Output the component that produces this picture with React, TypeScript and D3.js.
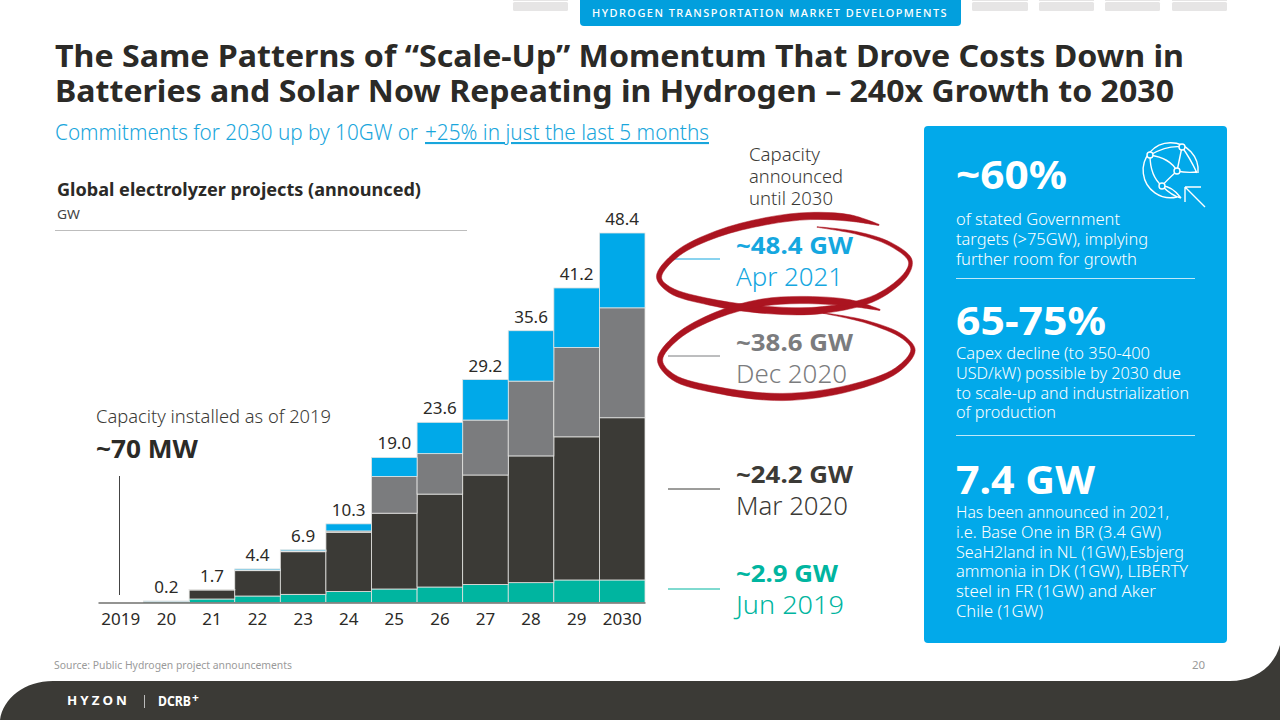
import React, { useEffect, useRef } from "react";
import * as d3 from "d3";

const years = ["2019", "20", "21", "22", "23", "24", "25", "26", "27", "28", "29", "2030"];
const totals = [null, 0.2, 1.7, 4.4, 6.9, 10.3, 19.0, 23.6, 29.2, 35.6, 41.2, 48.4];
const jun2019 = [0, 0.1, 0.46, 0.85, 1.07, 1.44, 1.77, 2.03, 2.36, 2.6, 2.95, 2.95];
const mar2020 = [0, 0.05, 1.18, 3.32, 5.58, 7.76, 9.93, 12.17, 14.34, 16.6, 18.75, 21.25];
const dec2020 = [0, 0, 0.04, 0.08, 0.1, 0.17, 4.8, 5.3, 7.2, 9.8, 11.7, 14.4];
const apr2021 = [0, 0.05, 0.02, 0.15, 0.15, 0.93, 2.5, 4.1, 5.3, 6.6, 7.8, 9.8];

const seriesKeys = ["jun2019", "mar2020", "dec2020", "apr2021"];
const seriesColors = ["#00b5a0", "#3b3a36", "#7b7c7e", "#00a9e9"];

const DARK = "#3b3a36";
const BLUE = "#02a9ea";
const TEAL = "#00b5a0";
const GREY = "#7b7c7e";
const FONT = "'Noto Sans', sans-serif";

// [x, y, half width of the brush]
const ring1: number[][] = [
  [879, 225, 0.6], [850, 218, 3.2], [810, 216, 3.6], [767, 221, 3.6], [717, 234, 3.2], [677, 254, 2.8],
  [659, 277, 2.6], [670, 290, 2.8], [710, 302, 3.2], [767, 310, 3.6], [823, 310, 3.4], [877, 297, 2.8],
  [907, 273, 2.2], [910, 260, 2], [890, 244, 1.8], [857, 233, 1.3], [817, 227, 0.3],
];
const ring2: number[][] = [
  [880, 310, 0.6], [850, 303, 3.2], [800, 300, 3.6], [760, 303, 3.6], [717, 315, 3.2], [677, 337, 2.8],
  [660, 360, 2.6], [673, 377, 2.8], [717, 390, 3.2], [783, 397, 3.6], [850, 388, 3.2], [897, 370, 2.6],
  [913, 350, 2.2], [903, 337, 1.8], [867, 322, 1.3], [823, 313, 0.3],
];

const brushPath = (pts: number[][]) => {
  const left: [number, number][] = [];
  const right: [number, number][] = [];
  pts.forEach((p, i) => {
    const a = pts[Math.max(0, i - 1)];
    const b = pts[Math.min(pts.length - 1, i + 1)];
    const len = Math.hypot(b[0] - a[0], b[1] - a[1]) || 1;
    const nx = -(b[1] - a[1]) / len;
    const ny = (b[0] - a[0]) / len;
    left.push([p[0] + nx * p[2], p[1] + ny * p[2]]);
    right.push([p[0] - nx * p[2], p[1] - ny * p[2]]);
  });
  const line = d3.line().curve(d3.curveCatmullRom);
  return `${line(left)}L${line(right.reverse())!.slice(1)}Z`;
};

type Line = { s: string; x?: number; y: number; size?: number; weight?: number; fill?: string; w?: number; deco?: string };

const App = () => {
  const svgRef = useRef<SVGSVGElement | null>(null);

  useEffect(() => {
    document.body.style.margin = "0";
    const svg = d3.select(svgRef.current).attr("width", 1280).attr("height", 720);
    svg.selectAll("*").remove();
    svg.append("rect").attr("width", 1280).attr("height", 720).attr("fill", "#fff");

    // one text element per block, a tspan per line
    const block = (x: number, size: number, fill: string, weight: number, lines: Line[]) => {
      const t = svg.append("text").attr("font-family", FONT);
      lines.forEach((l) => {
        const sp = t.append("tspan")
          .attr("x", l.x ?? x).attr("y", l.y)
          .attr("font-size", l.size ?? size)
          .attr("font-weight", l.weight ?? weight)
          .attr("fill", l.fill ?? fill)
          .text(l.s);
        if (l.w) sp.attr("textLength", l.w).attr("lengthAdjust", "spacingAndGlyphs");
        if (l.deco) sp.attr("text-decoration", l.deco);
      });
      return t;
    };

    // top navigation tabs
    [[513, 55], [972, 56], [1039, 55], [1105, 55], [1172, 55]].forEach(([x, w]) => {
      svg.append("rect").attr("x", x).attr("y", 2).attr("width", w).attr("height", 9).attr("rx", 1.5).attr("fill", "#e6e5e5");
      svg.append("rect").attr("x", x).attr("y", 0).attr("width", w).attr("height", 1).attr("fill", "#e6e5e5");
    });
    svg.append("path").attr("d", "M580,0H961V22a4,4 0 0 1 -4,4H584a4,4 0 0 1 -4,-4Z").attr("fill", "#029fdd");
    block(592, 10.5, "#fff", 500, [{ s: "HYDROGEN TRANSPORTATION MARKET DEVELOPMENTS", y: 17, w: 356 }]).attr("letter-spacing", 1.4);

    // title
    block(55, 31, "#2b2a27", 700, [
      { s: "The Same Patterns of “Scale-Up” Momentum That Drove Costs Down in", y: 67, w: 1129 },
      { s: "Batteries and Solar Now Repeating in Hydrogen – 240x Growth to 2030", y: 102, w: 1119 },
    ]);
    block(55, 21, "#19a6dc", 300, [
      { s: "Commitments for 2030 up by 10GW or", y: 140, w: 363 },
      { s: "+25% in just the last 5 months", x: 425, y: 140, w: 284, deco: "underline" },
    ]);

    // chart header
    block(57, 18, "#2b2a27", 700, [
      { s: "Global electrolyzer projects (announced)", y: 196, w: 364 },
      { s: "GW", y: 219, size: 13, weight: 400, fill: "#444", w: 23 },
    ]);
    svg.append("line").attr("x1", 55).attr("x2", 467).attr("y1", 230.5).attr("y2", 230.5).attr("stroke", "#bdbdbd");

    // stacked bars
    const rows = years.map((y, i) => ({
      year: y,
      jun2019: jun2019[i],
      mar2020: mar2020[i],
      dec2020: dec2020[i],
      apr2021: apr2021[i],
    }));
    const stacked = d3.stack<any>().keys(seriesKeys)(rows);

    const x = d3.scaleBand().domain(years).range([98, 645]).padding(0);
    const y = d3.scaleLinear()
      .domain([0, d3.max(totals, (d) => d ?? 0)!])
      .range([602.5, 233]);

    svg.append("g")
      .selectAll("g")
      .data(stacked)
      .join("g")
      .attr("fill", (_, i) => seriesColors[i])
      .selectAll("rect")
      .data((d) => d.filter((s) => s[1] - s[0] > 0))
      .join("rect")
      .attr("x", (d) => x(d.data.year)!)
      .attr("y", (d) => y(d[1]))
      .attr("width", x.bandwidth())
      .attr("height", (d) => y(d[0]) - y(d[1]))
      .attr("stroke", "#e4e4e2")
      .attr("stroke-width", 0.8);

    // totals above the bars
    svg.append("g")
      .selectAll("text")
      .data(years.filter((_, i) => totals[i] !== null))
      .join("text")
      .attr("x", (d) => x(d)! + x.bandwidth() / 2)
      .attr("y", (d) => y(totals[years.indexOf(d)]!) - 8)
      .attr("text-anchor", "middle")
      .attr("font-family", FONT)
      .attr("font-size", 17)
      .attr("fill", "#2b2a27")
      .text((d) => totals[years.indexOf(d)]!.toFixed(1));

    // axis
    const axis = svg.append("g")
      .attr("transform", "translate(0,602.5)")
      .call(d3.axisBottom(x).tickSize(0).tickSizeOuter(0).tickPadding(10));
    axis.select(".domain").attr("stroke", "#2b2a27").attr("stroke-width", 1.2);
    axis.selectAll("text").attr("font-family", FONT).attr("font-size", 17).attr("fill", "#2b2a27");

    // 2019 callout
    block(96, 18, "#3b3a36", 300, [
      { s: "Capacity installed as of 2019", y: 423, w: 235 },
      { s: "~70 MW", y: 458, size: 25, weight: 700, fill: "#2b2a27", w: 102 },
    ]);
    svg.append("line").attr("x1", 119.5).attr("x2", 119.5).attr("y1", 476).attr("y2", 595).attr("stroke", "#444").attr("stroke-width", 1);

    // announced capacity column
    block(749, 18, "#3b3a36", 300, [
      { s: "Capacity", y: 161, w: 71 },
      { s: "announced", y: 183, w: 94 },
      { s: "until 2030", y: 205, w: 84 },
    ]);

    const rows2 = [
      { y: 259, gw: "~48.4 GW", gy: 254, gl: 117, date: "Apr 2021", dy: 286, dl: 107, c: "#15a7df" },
      { y: 356, gw: "~38.6 GW", gy: 351, gl: 117, date: "Dec 2020", dy: 383, dl: 111, c: GREY },
      { y: 489, gw: "~24.2 GW", gy: 483, gl: 117, date: "Mar 2020", dy: 515, dl: 112, c: DARK },
      { y: 589, gw: "~2.9 GW", gy: 582, gl: 102, date: "Jun 2019", dy: 614, dl: 108, c: TEAL },
    ];
    rows2.forEach((r) => {
      svg.append("line").attr("x1", 668).attr("x2", 720).attr("y1", r.y).attr("y2", r.y).attr("stroke", r.c).attr("stroke-width", 1);
      block(736, 24, r.c, 700, [
        { s: r.gw, y: r.gy, w: r.gl },
        { s: r.date, y: r.dy, size: 26, weight: 300, w: r.dl },
      ]);
    });

    // red hand drawn rings
    [ring1, ring2].forEach((ring) => {
      svg.append("path").attr("d", brushPath(ring)).attr("fill", "#ab1420").attr("stroke", "#ab1420").attr("stroke-width", 0.5);
    });

    // right panel
    svg.append("rect").attr("x", 924).attr("y", 126).attr("width", 303).attr("height", 517).attr("rx", 4).attr("fill", BLUE);
    const para = (head: string, headY: number, headW: number, lines: string[], y0: number, widths: number[]) => {
      block(956, 16.5, "#fff", 300, [
        { s: head, y: headY, size: 39, weight: 700, w: headW },
        ...lines.map((s, i) => ({ s, y: y0 + i * 19.8, w: widths[i] })),
      ]);
    };
    para("~60%", 189, 111, ["of stated Government", "targets (>75GW), implying", "further room for growth"], 225, [164, 192, 181]);
    svg.append("line").attr("x1", 956).attr("x2", 1195).attr("y1", 278.5).attr("y2", 278.5).attr("stroke", "#bfe8f9");
    para("65-75%", 335, 150, ["Capex decline (to 350-400", "USD/kW) possible by 2030 due", "to scale-up and industrialization", "of production"], 359, [194, 225, 233, 100]);
    svg.append("line").attr("x1", 956).attr("x2", 1195).attr("y1", 435.5).attr("y2", 435.5).attr("stroke", "#bfe8f9");
    para("7.4 GW", 494, 139, ["Has been announced in 2021,", "i.e. Base One in BR (3.4 GW)", "SeaH2land in NL (1GW),Esbjerg", "ammonia in DK (1GW), LIBERTY", "steel in FR (1GW) and  Aker", "Chile (1GW)"], 518, [213, 205, 228, 232, 200, 87]);

    // globe icon
    const icon = svg.append("g").attr("fill", "none").attr("stroke", "#fff").attr("stroke-width", 1.4);
    icon.append("path").attr("d", "M1198,173A27.5,27.5 0 1 0 1177,197");
    icon.append("path").attr("d", "M1150,155Q1168,145 1182,147M1150,155Q1170,158 1177,171M1150,155Q1150,176 1162,186M1182,147L1177,171M1182,147Q1190,158 1197,173M1177,171Q1165,182 1162,186M1177,171Q1186,173 1197,172M1162,186Q1172,196 1181,198M1162,186Q1172,186 1181,198");
    icon.append("path").attr("d", "M1205,207L1185,187M1185,187H1201M1185,187V202");
    [[1150, 155], [1182, 147], [1177, 171], [1162, 186]].forEach(([cx, cy]) => {
      icon.append("circle").attr("cx", cx).attr("cy", cy).attr("r", 3).attr("fill", BLUE);
    });

    // footer
    block(54, 11.5, "#9a9a9a", 400, [
      { s: "Source: Public Hydrogen project announcements", y: 669, w: 238 },
      { s: "20", x: 1192, y: 669 },
    ]);
    svg.append("path").attr("d", "M0,720C3,698 25,681 53,681H1230C1256,681 1275,665 1280,645V720Z").attr("fill", DARK);
    block(67, 13, "#fff", 700, [{ s: "HYZON", y: 705, w: 63 }]).attr("letter-spacing", 3);
    svg.append("line").attr("x1", 144.5).attr("x2", 144.5).attr("y1", 695).attr("y2", 708).attr("stroke", "#bbb");
    block(158, 15, "#fff", 700, [{ s: "DCRB", y: 706, w: 33 }]);
    block(192, 12, "#fff", 700, [{ s: "+", y: 702 }]);
  }, []);

  return <svg ref={svgRef} style={{ display: "block" }}></svg>;
};

export default App;
